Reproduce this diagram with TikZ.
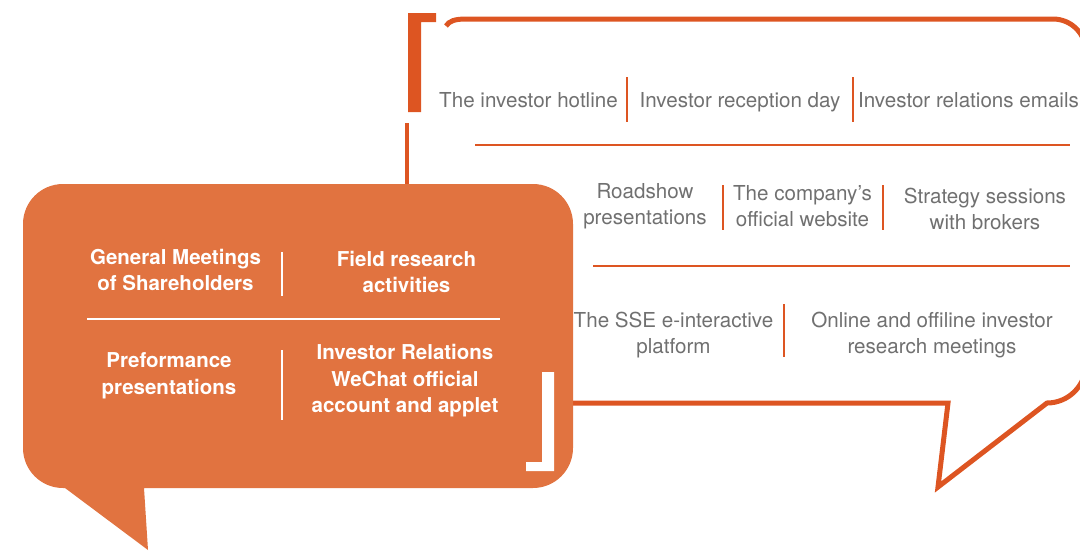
\documentclass[tikz,border=0pt]{standalone}
\usepackage{fontspec}
\setmainfont{TeX Gyre Heros}
\definecolor{fillor}{RGB}{225,115,64}
\definecolor{lineor}{RGB}{221,85,34}
\definecolor{txtgray}{RGB}{112,112,112}
\begin{document}
\begin{tikzpicture}[x=1pt,y=-1pt,
  graytxt/.style={text=txtgray,align=center,inner sep=0pt,font=\fontsize{20.6}{25.5}\selectfont},
  whitetxt/.style={text=white,align=center,inner sep=0pt,font=\bfseries\fontsize{20.5}{26.5}\selectfont},
  orsep/.style={draw=lineor,line width=2.6pt},
  whsep/.style={draw=white,line width=2.2pt}]
\useasboundingbox (0,0) rectangle (1080,550);
\clip (0,0) rectangle (1080,550);
% outline bubble
\draw[lineor,line width=5pt,line join=miter]
  (446,26) .. controls (449,21) and (455,19) .. (466,19) -- (1053,19)
  arc[start angle=-90,end angle=0,radius=33] -- (1086,364)
  arc[start angle=0,end angle=90,radius=39] -- (1047,403)
  -- (938,487) -- (948,403) -- (560,403);
\draw[lineor,line width=4pt] (407,123) -- (407,190);
% orange bracket
\fill[lineor] (408,13) -- (436,13) -- (436,22) -- (421,22) -- (421,112) -- (408,112) -- cycle;
% separators in outline bubble
\draw[orsep] (475,145) -- (1070,145);
\draw[orsep] (593,266) -- (1070,266);
\draw[orsep] (627,77) -- (627,122);
\draw[orsep] (853,77) -- (853,122);
\draw[orsep] (723,185) -- (723,230);
\draw[orsep] (883,185) -- (883,230);
\draw[orsep] (784,304) -- (784,357);
% filled bubble
\fill[fillor] (23,224) arc[start angle=180,end angle=270,radius=40] -- (533,184)
  arc[start angle=-90,end angle=0,radius=40] -- (573,448)
  arc[start angle=0,end angle=90,radius=40] -- (144,488) -- (148,550) -- (65,488) -- (63,488)
  arc[start angle=90,end angle=180,radius=40] -- cycle;
% white bracket
\fill[white] (542,372) -- (554,372) -- (554,471) -- (526,471) -- (526,462) -- (542,462) -- cycle;
% white separators
\draw[whsep] (87,319) -- (500,319);
\draw[whsep] (282,252) -- (282,296);
\draw[whsep] (282,350) -- (282,420);
% texts in outline bubble
\node[graytxt,anchor=base] (a1) at (528.5,107) {The investor hotline};
\node[graytxt,anchor=base] (a2) at (740,107) {Investor reception day};
\node[graytxt,anchor=base] (a3) at (968.5,107) {Investor relations emails};
\node[graytxt] (b1) at (645,206) {Roadshow\\presentations};
\node[graytxt] (b2) at (802.5,206) {The company’s\\official website};
\node[graytxt] (b3) at (985,209) {Strategy sessions\\with brokers};
\node[graytxt] (c1) at (673.5,335) {The SSE e-interactive\\platform};
\node[graytxt] (c2) at (932,335) {Online and offiline investor\\research meetings};
% texts in filled bubble
\node[whitetxt] (d1) at (175.5,270) {General Meetings\\of Shareholders};
\node[whitetxt] (d2) at (406.5,272) {Field research\\activities};
\node[whitetxt] (d3) at (169,376) {Preformance\\presentations};
\node[whitetxt] (d4) at (405,381) {Investor Relations\\WeChat official\\account and applet};
\end{tikzpicture}
\end{document}
